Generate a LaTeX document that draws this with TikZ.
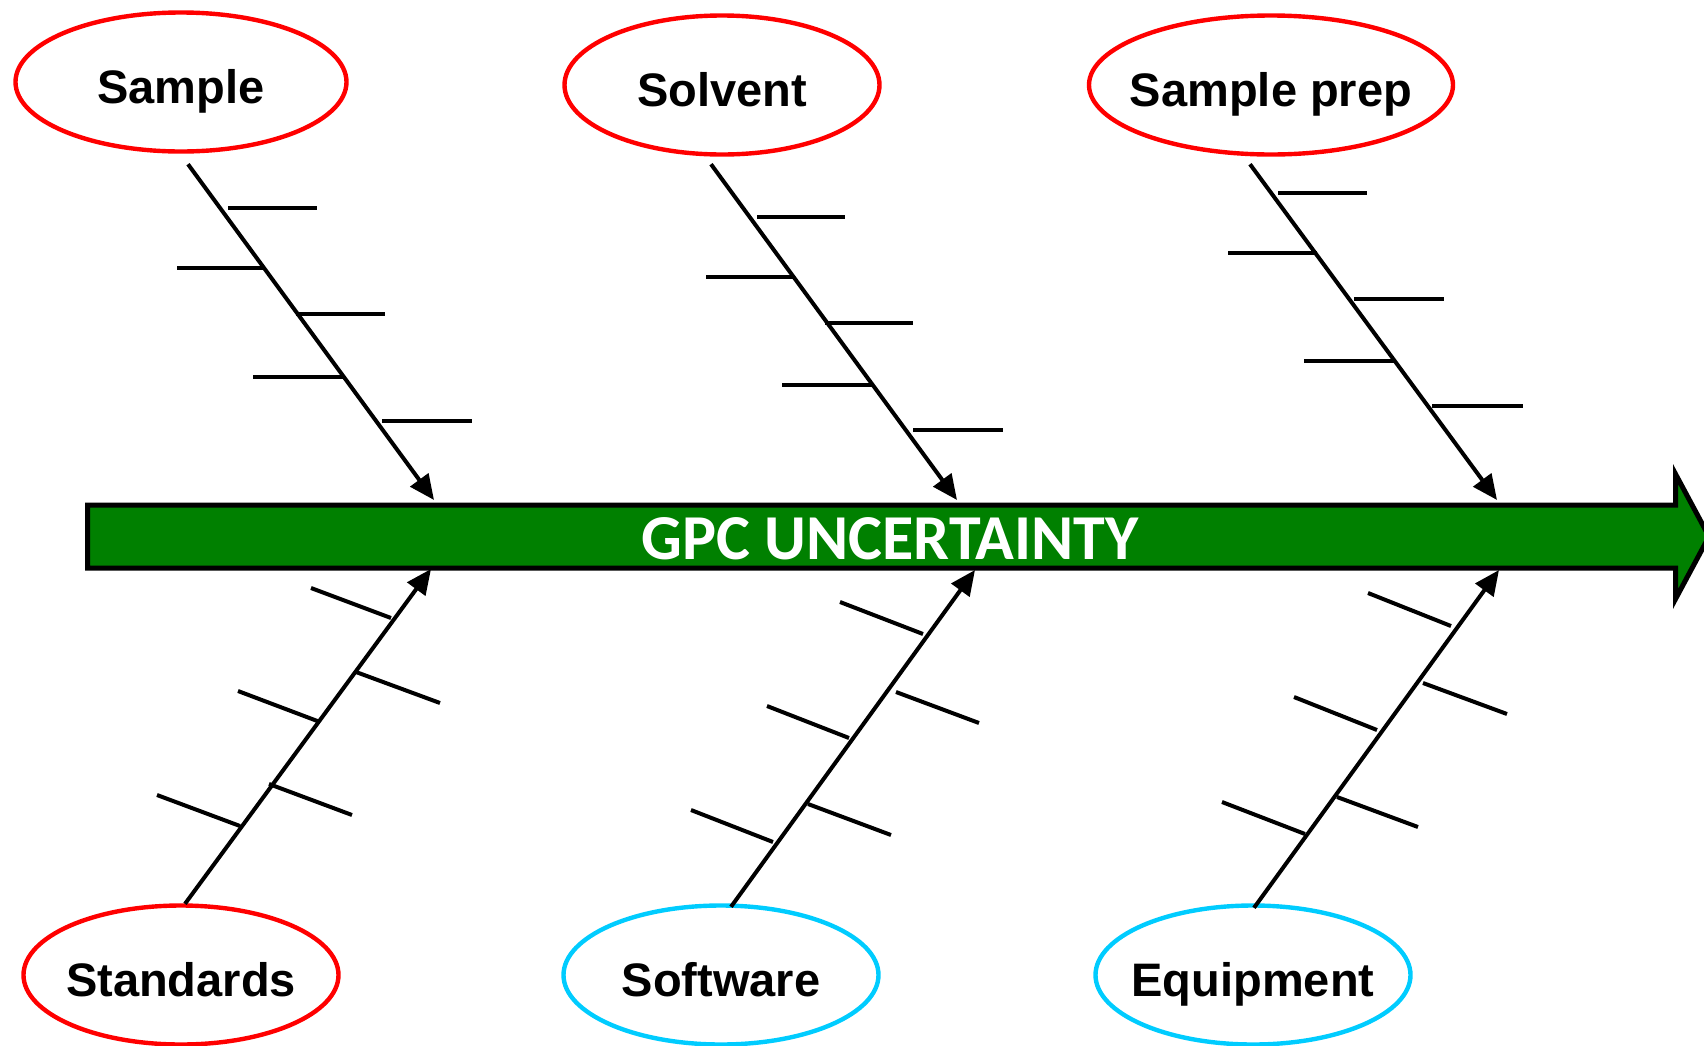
\documentclass[tikz,border=0pt]{standalone}
\usepackage{fontspec}
\usepackage{tikz}
\usetikzlibrary{shapes,arrows.meta}
\newfontfamily\causefont{Liberation Sans}
\newfontfamily\spinefont{Carlito}
\definecolor{causered}{RGB}{255,0,0}
\definecolor{causecyan}{RGB}{0,204,255}
\definecolor{spinegreen}{RGB}{0,128,0}
\tikzstyle{bone} = [line width=2pt,-{Triangle[length=12.5pt,width=11pt]}]
\tikzstyle{rib} = [line width=2pt]
\tikzstyle{cause} = [
    ellipse, line width=2.2pt, minimum height=69.5pt, inner ysep=0pt, inner xsep=-12pt,
    text height=21pt, text depth=0pt,
    font=\causefont\bfseries\fontsize{23.5pt}{28pt}\selectfont]

\begin{document}
\begin{tikzpicture}[x=0.5pt,y=-0.5pt]
\useasboundingbox (0,0) rectangle (1704,1045);

% spine
\draw [line width=2.5pt, fill=spinegreen, line join=miter]
    (87.5,505) -- (1675.5,505) -- (1675.5,474) -- (1709,536.5)
    -- (1675.5,599) -- (1675.5,568) -- (87.5,568) -- cycle;
\node (effect) [text=white, inner sep=0pt, text height=22pt, text depth=0pt,
    font=\spinefont\bfseries\fontsize{32pt}{38pt}\selectfont] at (890,537) {GPC UNCERTAINTY};

% where the bones meet the spine
\coordinate (hitSample) at (434,500);
\coordinate (hitSolvent) at (957,500);
\coordinate (hitPrep) at (1497,500);
\coordinate (hitStandards) at (431,569);
\coordinate (hitSoftware) at (975,570);
\coordinate (hitEquipment) at (1499,570);

% causes
\node (sample) [cause, draw=causered, minimum width=165.5pt] at (181,82) {Sample};
\node (solvent) [cause, draw=causered, minimum width=157.5pt] at (722,85) {Solvent};
\node (sampleprep) [cause, draw=causered, minimum width=182pt] at (1271,85) {Sample prep};
\node (standards) [cause, draw=causered, minimum width=157.5pt] at (181,975) {Standards};
\node (software) [cause, draw=causecyan, minimum width=157.5pt] at (721,975) {Software};
\node (equipment) [cause, draw=causecyan, minimum width=157.5pt] at (1253,975) {Equipment};

% bones
\draw [bone] ([shift={(7,10.5)}]sample.south) -- (hitSample);
\draw [bone] ([shift={(-11,7.5)}]solvent.south) -- (hitSolvent);
\draw [bone] ([shift={(-21,7.5)}]sampleprep.south) -- (hitPrep);
\draw [bone] ([shift={(4,0.5)}]standards.north) -- (hitStandards);
\draw [bone] ([shift={(10,3.5)}]software.north) -- (hitSoftware);
\draw [bone] ([shift={(1,4.5)}]equipment.north) -- (hitEquipment);

% ribs, top
\draw [rib] (228,208) -- (317,208);
\draw [rib] (177,268) -- (265,268);
\draw [rib] (296,314) -- (385,314);
\draw [rib] (253,377) -- (343,377);
\draw [rib] (382,421) -- (472,421);

\draw [rib] (757,217) -- (845,217);
\draw [rib] (706,277) -- (794,277);
\draw [rib] (825,323) -- (913,323);
\draw [rib] (782,385) -- (872,385);
\draw [rib] (913,430) -- (1003,430);

\draw [rib] (1278,193) -- (1367,193);
\draw [rib] (1228,253) -- (1317,253);
\draw [rib] (1354,299) -- (1444,299);
\draw [rib] (1304,361) -- (1394,361);
\draw [rib] (1432,406) -- (1523,406);

% ribs, bottom
\draw [rib] (311,588) -- (391,618);
\draw [rib] (356,672) -- (440,703);
\draw [rib] (238,691) -- (320,722);
\draw [rib] (269,784) -- (352,815);
\draw [rib] (157,795) -- (240,826);

\draw [rib] (840,602) -- (923,634);
\draw [rib] (896,692) -- (979,723);
\draw [rib] (767,706) -- (849,738);
\draw [rib] (808,804) -- (891,835);
\draw [rib] (691,810) -- (773,842);

\draw [rib] (1368,593) -- (1451,626);
\draw [rib] (1423,683) -- (1507,714);
\draw [rib] (1294,697) -- (1377,730);
\draw [rib] (1337,797) -- (1418,827);
\draw [rib] (1222,802) -- (1305,834);
\end{tikzpicture}
\end{document}
